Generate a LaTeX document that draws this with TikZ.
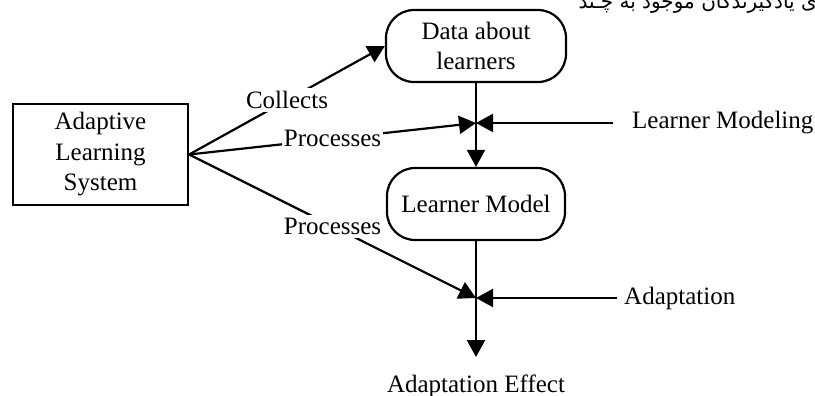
\documentclass[tikz,border=0pt]{standalone}
\usepackage{fontspec}
\setmainfont{Liberation Serif}
\newfontfamily\arabicfont[Script=Arabic]{DejaVu Sans}
\TeXXeTstate=1
\usetikzlibrary{arrows.meta}

\begin{document}
\begin{tikzpicture}[x=1pt,y=-1pt,
  lbl/.style={font=\fontsize{25}{30.5}\selectfont, inner sep=1pt},
  wlbl/.style={lbl, fill=white, inner xsep=2pt, inner ysep=3pt},
  conn/.style={line width=2.2pt, -{Triangle[length=17pt,width=18pt]}},
  plainline/.style={line width=2.2pt},
  rbox/.style={draw, line width=2.2pt, rounded corners=28pt, minimum width=180pt,
               minimum height=72pt, align=center, lbl},
  sbox/.style={draw, line width=2.2pt, minimum width=175pt, minimum height=101pt,
               align=center, lbl}
]
\useasboundingbox (0,0) rectangle (815,396);

% clipped Persian line at the top
\node[anchor=base east, inner sep=0pt, font=\arabicfont\fontsize{20}{24}\selectfont] (fa) at (817,9)
  {\beginR ی یادگیرندگان موجود به چـند\endR};

% nodes
\node[sbox] (als) at (100.5,154.5) {Adaptive\\Learning\\System};
\node[rbox] (data) at (476,46) {Data about\\learners};
\node[rbox, minimum width=178pt] (lm) at (476,204) {Learner Model};
\node[lbl, anchor=west, inner xsep=19pt] (lmod) at (613,123) {Learner Modeling};
\node[lbl, anchor=west, inner xsep=7pt] (adapt) at (617,298) {Adaptation};
\node[lbl, anchor=base] (ae) at (476,392) {Adaptation Effect};

% junctions and free ends
\coordinate (j1) at (476,123);
\coordinate (j2) at (476,298);
\coordinate (aetip) at (476,357);

% connectors
\draw[conn] (data.south) -- (lm.north);
\draw[conn] (lm.south) -- (aetip);
\draw[conn] (lmod.west) -- (j1);
\draw[conn] (adapt.west) -- (j2);
\draw[conn] (als.east) -- node[wlbl, pos=0.5] {Collects} (data.west);
\draw[conn] (als.east) -- node[wlbl, pos=0.5] {Processes} (j1);
\draw[conn] (als.east) -- node[wlbl, pos=0.5] {Processes} (j2);
\end{tikzpicture}
\end{document}
